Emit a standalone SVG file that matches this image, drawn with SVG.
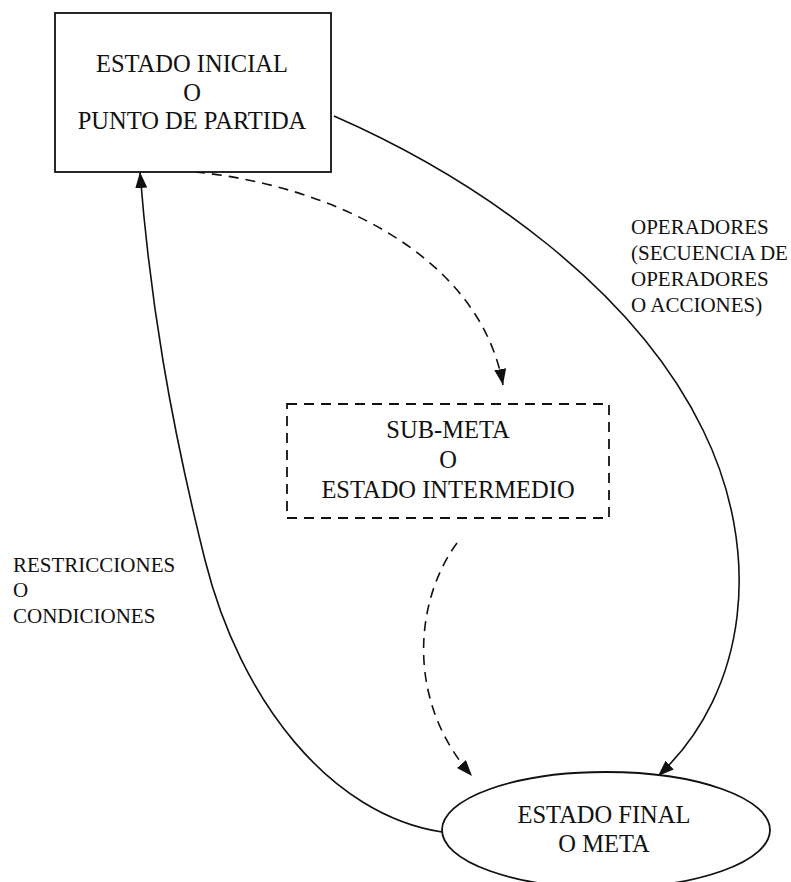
<svg xmlns="http://www.w3.org/2000/svg" width="791" height="882" viewBox="0 0 791 882">
<style>
.t{font-family:"Liberation Serif","DejaVu Serif","Times New Roman",serif;fill:#111;}
.big{font-size:24.5px;text-anchor:middle;}
.lbl{font-size:21px;}
.box{fill:#fff;stroke:#111;stroke-width:1.8;}
.dash{stroke-dasharray:10 7;}
.edge{fill:none;stroke:#111;stroke-width:1.6;}
</style>
<defs>
<marker id="ah" markerUnits="userSpaceOnUse" markerWidth="18" markerHeight="14" refX="16" refY="6" orient="auto">
<path d="M0,0 L16,6 L0,12 Z" fill="#111"/>
</marker>
</defs>
<rect width="791" height="882" fill="#fff"/>
<g id="connectors">
<path class="edge" d="M334,116 C480,180 635,290 703,430 C762,550 750,690 658,776" marker-end="url(#ah)"/>
<path class="edge dash" d="M195,172 C330,185 480,255 503,385" marker-end="url(#ah)"/>
<path class="edge dash" d="M457,543 C415,600 405,700 472,776" marker-end="url(#ah)"/>
<path class="edge" d="M442,832 C330,815 240,700 205,560 C170,420 150,300 140,172" marker-end="url(#ah)"/>
</g>
<g id="inicial">
<rect class="box" x="55" y="13" width="276" height="159"/>
<text class="t big" x="192" y="72">ESTADO INICIAL</text>
<text class="t big" x="192" y="101">O</text>
<text class="t big" x="192" y="129">PUNTO DE PARTIDA</text>
</g>
<g id="submeta">
<rect class="box dash" x="287" y="404" width="322" height="114" fill="none"/>
<text class="t big" x="448" y="438">SUB-META</text>
<text class="t big" x="448" y="468">O</text>
<text class="t big" x="448" y="498">ESTADO INTERMEDIO</text>
</g>
<g id="final">
<ellipse class="box" cx="606" cy="830" rx="164" ry="58"/>
<text class="t big" x="604" y="823">ESTADO FINAL</text>
<text class="t big" x="604" y="852">O META</text>
</g>
<g id="labels">
<text class="t lbl" x="631" y="234">OPERADORES</text>
<text class="t lbl" x="631" y="260">(SECUENCIA DE</text>
<text class="t lbl" x="631" y="286">OPERADORES</text>
<text class="t lbl" x="631" y="312">O ACCIONES)</text>
<text class="t lbl" x="13" y="572">RESTRICCIONES</text>
<text class="t lbl" x="13" y="597">O</text>
<text class="t lbl" x="13" y="623">CONDICIONES</text>
</g>
</svg>
